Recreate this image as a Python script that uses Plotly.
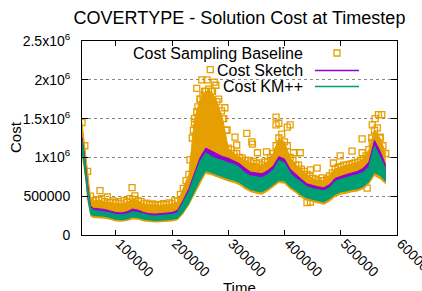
import plotly.graph_objects as go

# ---- data (time and cost in thousands) ----
time_k = [40, 45, 50, 55, 60, 70, 80, 90, 100, 110, 120, 130, 140, 150, 160, 170, 180, 190, 200, 210,
          220, 230, 240, 250, 260, 270, 280, 290, 300, 310, 320, 330, 340, 350, 360, 370, 380, 390, 400, 410,
          420, 430, 440, 450, 460, 470, 480, 490, 500, 510, 520, 530, 540, 550, 560, 570, 580]

km_lo = [1060, 800, 450, 260, 245, 240, 235, 215, 195, 190, 200, 225, 215, 195, 185, 180, 185, 190, 195, 210,
         290, 400, 550, 700, 820, 800, 770, 740, 720, 700, 670, 620, 580, 560, 550, 590, 640, 700, 690, 620,
         570, 510, 470, 450, 430, 420, 460, 520, 550, 560, 580, 590, 620, 680, 800, 760, 680]
km_hi = [1220, 970, 620, 360, 320, 310, 300, 285, 265, 260, 270, 300, 290, 265, 250, 245, 250, 255, 265, 290,
         420, 560, 760, 950, 1060, 1010, 980, 960, 930, 910, 870, 800, 760, 750, 740, 780, 840, 960, 930, 800,
         730, 680, 620, 600, 580, 570, 610, 690, 720, 740, 760, 780, 810, 880, 1150, 1000, 850]

sk_lo = [1080, 820, 470, 275, 260, 255, 250, 230, 210, 205, 215, 240, 230, 210, 200, 195, 200, 205, 210, 225,
         305, 420, 570, 720, 840, 820, 790, 760, 740, 720, 690, 640, 600, 580, 570, 610, 660, 720, 710, 640,
         590, 530, 490, 470, 450, 440, 480, 540, 570, 580, 600, 610, 640, 700, 830, 780, 700]
sk_hi = [1260, 1000, 650, 380, 345, 340, 330, 310, 290, 285, 300, 335, 320, 290, 275, 270, 275, 280, 290, 320,
         450, 600, 800, 1000, 1120, 1080, 1040, 1010, 990, 960, 920, 860, 810, 800, 790, 830, 890, 1010, 980, 850,
         780, 720, 660, 640, 620, 610, 650, 730, 760, 780, 800, 820, 860, 940, 1220, 1080, 900]

base_lo = [1000, 760, 420, 240, 220, 215, 210, 195, 175, 170, 180, 200, 195, 175, 165, 160, 165, 170, 175, 190,
           270, 380, 520, 670, 790, 770, 740, 710, 690, 670, 640, 590, 550, 530, 520, 560, 610, 670, 660, 590,
           540, 480, 440, 420, 400, 390, 430, 490, 520, 530, 550, 560, 590, 650, 760, 720, 650]
base_hi = [1450, 1150, 820, 500, 440, 450, 430, 420, 410, 400, 420, 460, 440, 400, 390, 380, 385, 390, 400, 430,
           600, 780, 1500, 1750, 1850, 1850, 1720, 1500, 1120, 1050, 1000, 960, 930, 920, 900, 950, 1050, 1250, 1200, 1000,
           900, 850, 780, 730, 700, 700, 760, 850, 880, 900, 920, 940, 980, 1100, 1350, 1250, 1050]

# squares along the ragged top edge of the baseline cloud
edge_t = [65, 75, 95, 105, 115, 125, 145, 155, 165, 175, 185, 195, 205, 215, 225,
          236, 240, 246, 250, 255, 258, 265, 272, 283, 288, 292, 296,
          305, 315, 325, 335, 345, 355, 365, 375, 385, 395, 405, 415, 425, 435, 445, 455, 465, 475,
          485, 495, 505, 515, 525, 535, 545, 555, 565, 575]
edge_c = [450, 470, 440, 430, 445, 470, 430, 410, 400, 395, 405, 415, 440, 520, 700,
          1250, 1450, 1650, 1750, 1800, 1850, 1880, 1850, 1750, 1600, 1500, 1350,
          1100, 1050, 990, 960, 950, 930, 940, 1000, 1150, 1300, 1150, 960, 900, 820, 760, 720, 700, 720,
          800, 870, 900, 910, 930, 960, 1020, 1250, 1380, 1150]

out_t = [72, 85, 99, 120, 129, 134, 167, 202, 232, 238, 244, 238, 244, 253, 262, 268, 275, 278, 294, 244,
         262, 280, 298, 312, 315, 343, 352, 368, 333, 342, 385, 390, 405, 410, 385, 416, 428, 446, 458, 440,
         446, 487, 499, 520, 538, 538, 556, 556, 561, 567, 570, 573, 547, 467, 476]
out_c = [571, 490, 416, 425, 610, 503, 348, 348, 967, 967, 900, 1350, 1890, 2000, 2000, 2130, 1970, 1930, 1640, 1590,
         1220, 1330, 1350, 1260, 1160, 1170, 1060, 1070, 1310, 1200, 1420, 1440, 1390, 1420, 1520, 1060, 1060, 838, 863, 416,
         425, 928, 1020, 1080, 1060, 1240, 1190, 1420, 1500, 1550, 1260, 1550, 605, 735, 709]

y_tickvals = [0, 500000, 1000000, 1500000, 2000000, 2500000]
y_ticktext = ["0", "500000", "1x10<sup>6</sup>", "1.5x10<sup>6</sup>", "2x10<sup>6</sup>", "2.5x10<sup>6</sup>"]
x_tickvals = [100000, 200000, 300000, 400000, 500000, 600000]

ORANGE = "#e69f00"
PURPLE = "#9400d3"
GREEN = "#009e73"

t = [v * 1000 for v in time_k]
K = lambda arr: [v * 1000 for v in arr]

fig = go.Figure()

def band(lo, hi, color):
    fig.add_trace(go.Scatter(x=t, y=K(lo), mode="lines", line=dict(width=0, color=color),
                             showlegend=False, hoverinfo="skip"))
    fig.add_trace(go.Scatter(x=t, y=K(hi), mode="lines", line=dict(width=1, color=color),
                             fill="tonexty", fillcolor=color, showlegend=False, hoverinfo="skip"))

# baseline
band(base_lo, base_hi, ORANGE)
mk = dict(symbol="square-open", size=6, color=ORANGE, line=dict(width=1.3, color=ORANGE))
fig.add_trace(go.Scatter(x=t, y=K(base_hi), mode="markers", marker=mk, showlegend=False, hoverinfo="skip"))
fig.add_trace(go.Scatter(x=[v * 1000 for v in edge_t], y=K(edge_c), mode="markers", marker=mk,
                         showlegend=False, hoverinfo="skip"))
fig.add_trace(go.Scatter(x=[v * 1000 for v in out_t], y=K(out_c), mode="markers", marker=mk,
                         showlegend=False, hoverinfo="skip"))
# sketch
band(sk_lo, sk_hi, PURPLE)
# km++
band(km_lo, km_hi, GREEN)

X0, X1, Y0, Y1 = 82, 397, 41, 235
px = lambda p: (p - X0) / (X1 - X0)
py = lambda p: (Y1 - p) / (Y1 - Y0)

shapes = [
    dict(type="rect", xref="paper", yref="paper", x0=px(120), x1=px(367), y0=py(95), y1=py(43),
         fillcolor="white", line=dict(width=0), layer="between"),
    dict(type="rect", xref="paper", yref="paper", x0=px(334), x1=px(340), y0=py(56), y1=py(50),
         line=dict(color=ORANGE, width=1.3), fillcolor="rgba(0,0,0,0)"),
    dict(type="line", xref="paper", yref="paper", x0=px(315), x1=px(359), y0=py(70.5), y1=py(70.5),
         line=dict(color=PURPLE, width=1.5)),
    dict(type="line", xref="paper", yref="paper", x0=px(315), x1=px(359), y0=py(86.5), y1=py(86.5),
         line=dict(color=GREEN, width=1.5)),
]

font_fam = "Liberation Sans, Arial, sans-serif"
annotations = []
for txt, yy in [("Cost Sampling Baseline", 53), ("Cost Sketch", 70.5), ("Cost KM++", 86.5)]:
    annotations.append(dict(text=txt, xref="paper", yref="paper", x=px(305), y=py(yy), xanchor="right",
                            yanchor="middle", showarrow=False, font=dict(size=16, color="black")))
annotations.append(dict(text="Time", xref="paper", yref="paper", x=px(239), y=py(277), xanchor="center",
                        yanchor="top", showarrow=False, font=dict(size=15, color="black")))
annotations.append(dict(text="Cost", xref="paper", yref="paper", x=px(15), y=py(137), xanchor="center",
                        yanchor="middle", textangle=-90, showarrow=False, font=dict(size=15, color="black")))

fig.update_layout(
    width=422, height=291,
    margin=dict(l=X0, r=422 - X1, t=Y0, b=291 - Y1, pad=0),
    paper_bgcolor="white", plot_bgcolor="white",
    font=dict(family=font_fam, color="black"),
    title=dict(text="COVERTYPE - Solution Cost at Timestep", x=0.5, xref="paper", xanchor="center",
               y=1 - 18 / 291, yanchor="middle", font=dict(size=18, color="black")),
    showlegend=False, hovermode=False,
    shapes=shapes, annotations=annotations,
)
fig.update_xaxes(range=[40000, 600000], tickvals=x_tickvals, ticktext=[str(v) for v in x_tickvals],
                 tickangle=45, ticks="inside", ticklen=5, tickcolor="black", showline=True, linecolor="black",
                 linewidth=1, mirror="ticks", showgrid=False, zeroline=False, tickfont=dict(size=14),
                 automargin=False, ticklabelstandoff=-6, ticklabelshift=4, ticklabeloverflow="allow")
fig.update_yaxes(range=[0, 2500000], tickvals=y_tickvals, ticktext=y_ticktext, ticks="inside", ticklen=6,
                 tickcolor="black", showline=True, linecolor="black", linewidth=1, mirror="ticks",
                 showgrid=True, gridcolor="#888888", griddash="dot", gridwidth=1, zeroline=False,
                 tickfont=dict(size=14), automargin=False, ticklabelstandoff=8)

fig.write_html("out.html", config={"displayModeBar": False, "staticPlot": True},
               post_script="document.body.style.margin='0';document.body.style.overflow='hidden';")
